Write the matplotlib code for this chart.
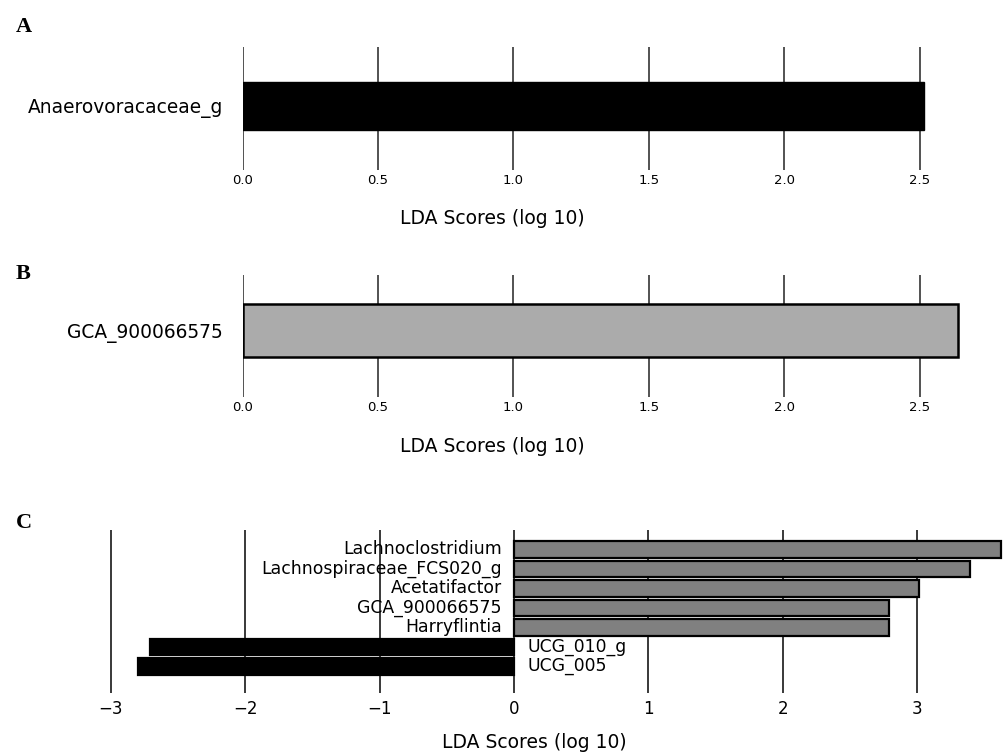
import matplotlib
matplotlib.use("Agg")
import matplotlib.pyplot as plt

# ---- data ----
a_labels = ["Anaerovoracaceae_g"]
a_values = [2.515]
b_labels = ["GCA_900066575"]
b_values = [2.644]
c_labels = ["Lachnoclostridium", "Lachnospiraceae_FCS020_g", "Acetatifactor",
            "GCA_900066575", "Harryflintia", "UCG_010_g", "UCG_005"]
c_values = [3.62, 3.39, 3.01, 2.79, 2.79, -2.71, -2.80]
ab_ticks = [0.0, 0.5, 1.0, 1.5, 2.0, 2.5]
c_ticks = [-3, -2, -1, 0, 1, 2, 3]
xlabel = "LDA Scores (log 10)"

W, H = 1006, 756
fig = plt.figure(figsize=(W / 100, H / 100), dpi=100)

def ax_px(left, top, right, bottom):
    return fig.add_axes([left / W, 1 - bottom / H, (right - left) / W, (bottom - top) / H])

def style(ax, ticks, fs, pad, gridcolor):
    for s in ax.spines.values():
        s.set_visible(False)
    ax.set_xticks(ticks)
    ax.tick_params(axis="x", length=0, pad=pad, labelsize=fs)
    ax.tick_params(axis="y", length=0)
    ax.set_axisbelow(True)
    ax.grid(axis="x", color=gridcolor, linewidth=1.3)
    ax.grid(axis="y", visible=False)

def fig_label(xpx, ypx, s):
    fig.text(xpx / W, 1 - ypx / H, s, fontsize=13.5, ha="center", va="center")

# ---- Panel A ----
scaleAB = 270.8
x0 = 242.5
xmaxAB = 2.75
axA = ax_px(x0, 47, x0 + xmaxAB * scaleAB, 170)
axA.barh([0], a_values, height=0.78, color="black", edgecolor="black")
axA.set_xlim(0, xmaxAB)
axA.set_ylim(-1.04, 0.96)
axA.set_yticks([0])
axA.set_yticklabels(a_labels, fontsize=13.4)
axA.tick_params(axis="y", pad=14)
style(axA, ab_ticks, 9.5, 3, "#444444")
axA.set_xticklabels([f"{t:.1f}" for t in ab_ticks])
fig_label(492, 218, xlabel)

# ---- Panel B ----
axB = ax_px(x0, 275, x0 + xmaxAB * scaleAB, 397)
axB.barh([0], b_values, height=0.87, color="#ababab", edgecolor="black", linewidth=1.8)
axB.set_xlim(0, xmaxAB)
axB.set_ylim(-1.09, 0.91)
axB.set_yticks([0])
axB.set_yticklabels(b_labels, fontsize=13.4)
axB.tick_params(axis="y", pad=14)
style(axB, ab_ticks, 9.5, 3, "#444444")
axB.set_xticklabels([f"{t:.1f}" for t in ab_ticks])
fig_label(492, 447, xlabel)

# ---- Panel C ----
scaleC = 134.4
zeroC = 514
xlo, xhi = -3.05, 3.66
axC = ax_px(zeroC + xlo * scaleC, 530, zeroC + xhi * scaleC, 693)
n = len(c_values)
ypos = list(range(n - 1, -1, -1))
colors = ["#808080" if v > 0 else "black" for v in c_values]
axC.barh(ypos, c_values, height=0.87, color=colors, edgecolor="black", linewidth=1.6)
for y, lab, v in zip(ypos, c_labels, c_values):
    if v > 0:
        axC.text(-0.09, y, lab, ha="right", va="center", fontsize=12.4)
    else:
        axC.text(0.1, y, lab, ha="left", va="center", fontsize=12.4)
axC.set_xlim(xlo, xhi)
axC.set_ylim(-1.36, 7.0)
axC.set_yticks([])
style(axC, c_ticks, 12, 5, "#2a2a2a")
fig_label(534, 742, xlabel)

# ---- panel letters ----
for letter, ypx in [("A", 32), ("B", 279), ("C", 528)]:
    fig.text(16 / W, 1 - ypx / H, letter, fontsize=16, fontweight="bold",
             family="Liberation Serif", ha="left", va="baseline")

fig.savefig("out.png", dpi=100)
